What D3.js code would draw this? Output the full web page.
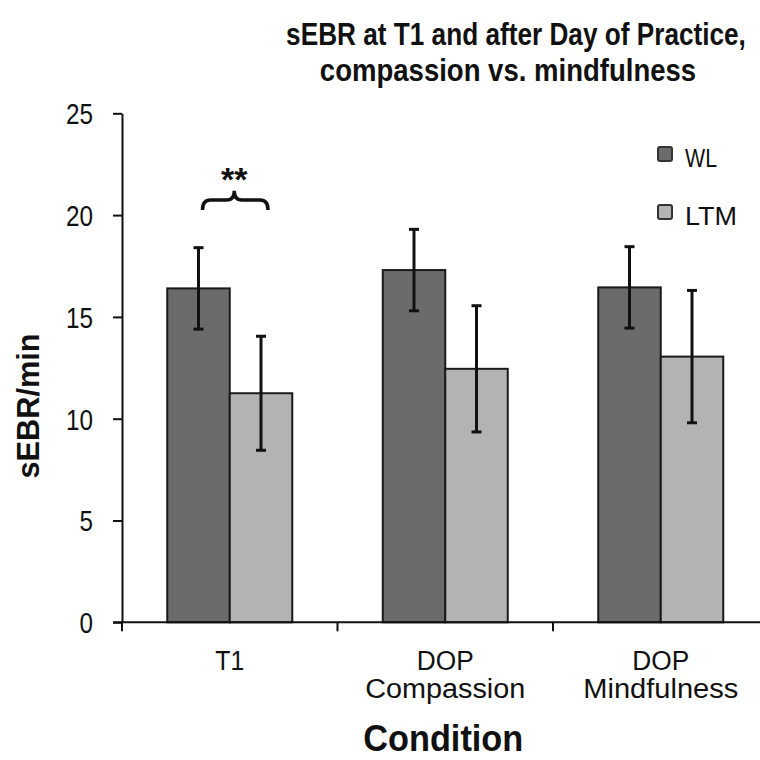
<!DOCTYPE html>
<html>
<head>
<meta charset="utf-8">
<script src="https://cdn.jsdelivr.net/npm/d3@7"></script>
<style>
  html, body { margin: 0; padding: 0; background: #fff; }
  svg { display: block; }
  text { font-family: "Liberation Sans", Arial, sans-serif; fill: #111; }
</style>
</head>
<body>
<svg id="chart" width="760" height="760"></svg>
<script>
// ---- data ----
const categories = ["T1", "DOP Compassion", "DOP Mindfulness"];
const categoryLabels = [["T1"], ["DOP", "Compassion"], ["DOP", "Mindfulness"]];
const series = ["WL", "LTM"];
const wlValues = [16.4, 17.3, 16.45];
const wlErrors = [2.0, 2.0, 2.0];
const ltmValues = [11.25, 12.45, 13.05];
const ltmErrors = [2.8, 3.1, 3.25];
const yTicks = [0, 5, 10, 15, 20, 25];
const titleLines = ["sEBR at T1 and after Day of Practice,", "compassion vs. mindfulness"];
const yTitle = "sEBR/min";
const xTitle = "Condition";
const sigLabel = "**";

const colors = { WL: "#6b6b6b", LTM: "#b3b3b3" };

const svg = d3.select("#chart");

// scales
const x = d3.scaleBand().domain(categories).range([122, 768.5]).paddingInner(0).paddingOuter(0);
const groupW = 125;
const xSub = d3.scaleBand().domain(series).range([0, groupW]);
const gOff = (x.bandwidth() - groupW) / 2;
const y = d3.scaleLinear().domain([0, 25]).range([622.3, 113.3]);

const rows = [];
categories.forEach((c, i) => {
  rows.push({ cat: c, s: "WL", v: wlValues[i], e: wlErrors[i] });
  rows.push({ cat: c, s: "LTM", v: ltmValues[i], e: ltmErrors[i] });
});

// bars
svg.append("g").selectAll("rect").data(rows).join("rect")
  .attr("x", d => x(d.cat) + gOff + xSub(d.s))
  .attr("width", xSub.bandwidth())
  .attr("y", d => y(d.v))
  .attr("height", d => y(0) - y(d.v))
  .attr("fill", d => colors[d.s])
  .attr("stroke", "#1a1a1a")
  .attr("stroke-width", 2);

// error bars
const eb = svg.append("g").attr("stroke", "#111").attr("stroke-width", 3);
rows.forEach(d => {
  const cx = x(d.cat) + gOff + xSub(d.s) + xSub.bandwidth() / 2;
  eb.append("line").attr("x1", cx).attr("x2", cx).attr("y1", y(d.v - d.e)).attr("y2", y(d.v + d.e));
  [d.v - d.e, d.v + d.e].forEach(t => {
    eb.append("line").attr("x1", cx - 5).attr("x2", cx + 5).attr("y1", y(t)).attr("y2", y(t));
  });
});

// y axis
const yAxis = svg.append("g").attr("transform", "translate(122,0)")
  .call(d3.axisLeft(y).tickValues(yTicks).tickSize(9).tickSizeOuter(0).tickPadding(20).tickFormat(d3.format("d")));
yAxis.select(".domain").attr("stroke", "#111").attr("stroke-width", 2);
yAxis.selectAll(".tick line").attr("stroke", "#111").attr("stroke-width", 2);
yAxis.selectAll(".tick text").style("font-size", "29px").attr("fill", "#111")
  .attr("dy", "0.36em")
  .attr("textLength", d => String(d).length * 13.5).attr("lengthAdjust", "spacingAndGlyphs");

// x axis
const xAxisG = svg.append("g");
xAxisG.append("line").attr("x1", 113).attr("x2", 768).attr("y1", y(0)).attr("y2", y(0))
  .attr("stroke", "#111").attr("stroke-width", 2);
categories.forEach(c => {
  xAxisG.append("line").attr("x1", x(c)).attr("x2", x(c)).attr("y1", y(0)).attr("y2", y(0) + 9)
    .attr("stroke", "#111").attr("stroke-width", 2);
});
const labelW = { "T1": 29, "DOP": 57, "Compassion": 160, "Mindfulness": 155 };
categories.forEach((c, i) => {
  categoryLabels[i].forEach((ln, j) => {
    xAxisG.append("text").attr("text-anchor", "middle").style("font-size", "27px")
      .attr("x", x(c) + x.bandwidth() / 2).attr("y", 670 + j * 28)
      .attr("textLength", labelW[ln]).attr("lengthAdjust", "spacingAndGlyphs").text(ln);
  });
});

// axis titles
svg.append("text").attr("text-anchor", "middle").style("font-size", "37px").style("font-weight", "bold")
  .attr("x", x("DOP Compassion") + x.bandwidth() / 2 - 2).attr("y", 751)
  .attr("textLength", 160).attr("lengthAdjust", "spacingAndGlyphs").text(xTitle);
svg.append("text").attr("text-anchor", "middle").style("font-size", "32px").style("font-weight", "bold")
  .attr("transform", "translate(39,406) rotate(-90)")
  .attr("textLength", 145).attr("lengthAdjust", "spacingAndGlyphs").text(yTitle);

// title
const titleSpecs = [{ cx: 516, y: 45, sx: 0.97 }, { cx: 508, y: 81, sx: 1.02 }];
titleLines.forEach((ln, i) => {
  svg.append("text").attr("text-anchor", "middle").style("font-size", "27px").style("font-weight", "bold")
    .attr("transform", `translate(${titleSpecs[i].cx},${titleSpecs[i].y}) scale(${titleSpecs[i].sx},1.13)`)
    .text(ln);
});

// legend
const legendY = [147, 205];
const legendW = [32, 52];
series.forEach((s, i) => {
  svg.append("rect").attr("x", 658).attr("y", legendY[i]).attr("width", 14).attr("height", 14)
    .attr("rx", 2).attr("fill", colors[s]).attr("stroke", "#333").attr("stroke-width", 2);
  svg.append("text").attr("x", 685).attr("y", legendY[i] + 20).style("font-size", "26px")
    .attr("textLength", legendW[i]).attr("lengthAdjust", "spacingAndGlyphs").text(s);
});

// significance brace
const c0 = categories[0];
const wlC = x(c0) + gOff + xSub("WL") + xSub.bandwidth() / 2;
const ltmC = x(c0) + gOff + xSub("LTM") + xSub.bandwidth() / 2;
const l = wlC + 4, r = ltmC + 7, mid = (l + r) / 2 - 1;
const yEnd = y(20.25), yBar = y(20.74), yPeak = y(21.19);
svg.append("path")
  .attr("d", `M${l},${yEnd} Q${l},${yBar} ${l + 8},${yBar} L${mid - 7},${yBar} Q${mid},${yBar} ${mid},${yPeak} Q${mid},${yBar} ${mid + 7},${yBar} L${r - 8},${yBar} Q${r},${yBar} ${r},${yEnd}`)
  .attr("fill", "none").attr("stroke", "#111").attr("stroke-width", 3.5);
svg.append("text").attr("text-anchor", "middle").style("font-size", "34px").style("font-weight", "bold")
  .attr("x", mid).attr("y", 191).text(sigLabel);
</script>
</body>
</html>
